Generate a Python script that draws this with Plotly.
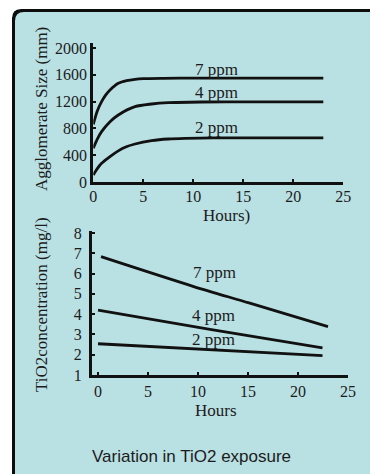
import plotly.graph_objects as go

W, H = 370, 474

# ---------------- data ----------------
hours_top_7 = [0, 0.4, 0.83, 1.25, 1.67, 2.5, 3.33, 4.17, 5, 7, 10, 15, 23]
size_7ppm = [860, 1060, 1199, 1300, 1373, 1473, 1513, 1533, 1543, 1548, 1550, 1550, 1550]
hours_top_4 = [0, 0.4, 0.83, 1.67, 2.5, 4.17, 5.83, 7.5, 10.8, 15, 23]
size_4ppm = [503, 640, 751, 900, 1000, 1124, 1164, 1184, 1194, 1196, 1196]
hours_top_2 = [0, 0.4, 0.83, 1.67, 2.5, 3.3, 4.17, 5.83, 7.5, 9.2, 12, 15, 23]
size_2ppm = [105, 200, 279, 380, 465, 525, 567, 617, 642, 652, 658, 660, 660]

hours_bot_7 = [0.3, 9.5, 15.1, 23.0]
conc_7ppm = [6.83, 5.37, 4.55, 3.38]
hours_bot_4 = [0.0, 11.2, 22.45]
conc_4ppm = [4.20, 3.25, 2.34]
hours_bot_2 = [0.0, 22.45]
conc_2ppm = [2.54, 1.95]

x_ticks = [0, 5, 10, 15, 20, 25]
size_ticks = [0, 400, 800, 1200, 1600, 2000]
conc_ticks = [1, 2, 3, 4, 5, 6, 7, 8]

SERIF = "Liberation Serif, Times New Roman, serif"
SANS = "Liberation Sans, Arial, sans-serif"
INK = "#1c1c1c"
BG = "#b9e0e3"


def px(x):
    return x / W


def py(y):
    return 1 - y / H


fig = go.Figure()

line_style = dict(color="#111111", width=2.8, shape="spline", smoothing=0.8)
for xs, ys in [(hours_top_7, size_7ppm), (hours_top_4, size_4ppm), (hours_top_2, size_2ppm)]:
    fig.add_trace(go.Scatter(x=xs, y=ys, mode="lines", line=line_style,
                             xaxis="x", yaxis="y", showlegend=False, hoverinfo="skip"))
for xs, ys in [(hours_bot_7, conc_7ppm), (hours_bot_4, conc_4ppm), (hours_bot_2, conc_2ppm)]:
    fig.add_trace(go.Scatter(x=xs, y=ys, mode="lines", line=line_style,
                             xaxis="x2", yaxis="y2", showlegend=False, hoverinfo="skip"))

axis_common = dict(showgrid=False, zeroline=False, showline=True, linecolor="#111111",
                   linewidth=3, ticks="inside", ticklen=3, tickwidth=2, tickcolor="#111111",
                   automargin=False,
                   tickfont=dict(family=SERIF, size=16, color=INK))

fig.update_layout(
    template="none",
    width=W, height=H, autosize=False,
    margin=dict(l=0, r=0, t=0, b=0, pad=0),
    paper_bgcolor=BG,
    plot_bgcolor="rgba(0,0,0,0)",
    showlegend=False,
    xaxis=dict(domain=[px(93.3), px(343.3)], range=[0, 25], anchor="y",
               tickvals=x_ticks, ticklabelstandoff=-2, **axis_common),
    yaxis=dict(domain=[py(182), py(43.3)], range=[0, 2070], anchor="x",
               tickvals=size_ticks, **axis_common),
    xaxis2=dict(domain=[px(92), px(348)], range=[-0.6, 25], anchor="y2",
                tickvals=x_ticks, **axis_common),
    yaxis2=dict(domain=[py(375), py(230.9)], range=[1, 8.1], anchor="x2",
                tickvals=conc_ticks, ticklabelstandoff=4, **axis_common),
)

# white outer margin and black frame strips (top and left), with rounded top-left corner
fig.add_shape(type="rect", x0=0, x1=1, y0=py(9), y1=1, xref="paper", yref="paper",
              fillcolor="white", line=dict(width=0), layer="below")
fig.add_shape(type="rect", x0=0, x1=px(12), y0=0, y1=1, xref="paper", yref="paper",
              fillcolor="white", line=dict(width=0), layer="below")
r = 9
frame = (f"M {px(12)},{py(474)} L {px(12)},{py(9 + r)} Q {px(12)},{py(9)} {px(12 + r)},{py(9)} "
         f"L {px(370)},{py(9)} L {px(370)},{py(12)} L {px(15 + r)},{py(12)} "
         f"Q {px(15)},{py(12)} {px(15)},{py(12 + r)} L {px(15)},{py(474)} Z")
fig.add_shape(type="path", path=frame, xref="paper", yref="paper",
              fillcolor="#0d0d0d", line=dict(width=0), layer="below")
corner = (f"M {px(12)},{py(9)} L {px(12 + r)},{py(9)} Q {px(12)},{py(9)} {px(12)},{py(9 + r)} Z")
fig.add_shape(type="path", path=corner, xref="paper", yref="paper",
              fillcolor="white", line=dict(width=0), layer="below")


def note(text, x, y, size=17, family=SERIF, angle=0):
    fig.add_annotation(text=text, x=px(x), y=py(y), xref="paper", yref="paper",
                       showarrow=False, xanchor="center", yanchor="middle", textangle=angle,
                       font=dict(family=family, size=size, color=INK))

# axis titles
note("Agglomerate Size (mm)", 42, 109, angle=-90)
note("TiO2concentration (mg/l)", 41, 305, angle=-90)
note("Hours)", 226.7, 215)
note("Hours", 215.8, 410)

# series labels
note("7 ppm", 216.7, 69)
note("4 ppm", 216.7, 92.5)
note("2 ppm", 216, 127.5)
note("7 ppm", 214, 272.5)
note("4 ppm", 213, 315.5)
note("2 ppm", 213, 339.5)

note("Variation in TiO2 exposure", 191.7, 456.5, size=17, family=SANS)

post = """
document.body.style.margin = '0';
document.documentElement.style.overflow = 'hidden';
document.body.style.overflow = 'hidden';
"""

fig.write_html("out.html", config={"displayModeBar": False}, post_script=post)
